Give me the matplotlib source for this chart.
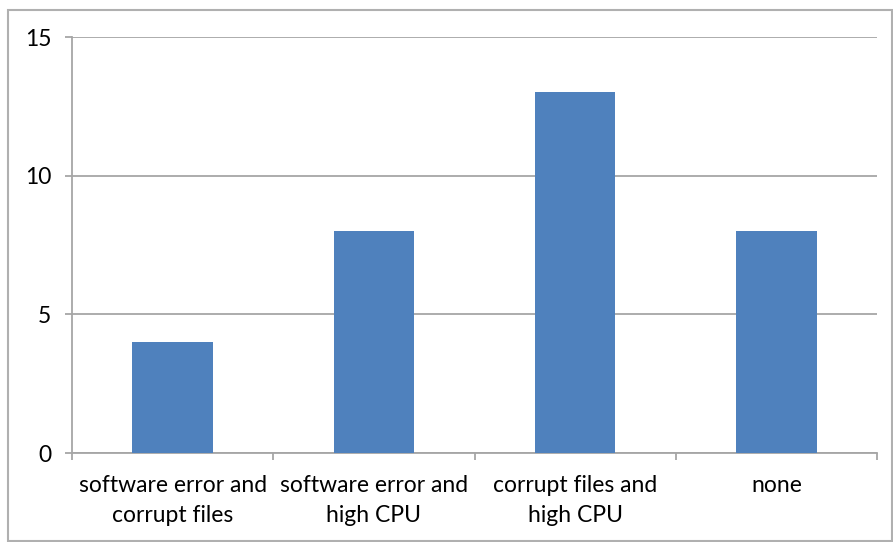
import matplotlib.pyplot as plt
from matplotlib.patches import Rectangle

# Data
categories = ['software error and\ncorrupt files', 'software error and\nhigh CPU',
              'corrupt files and\nhigh CPU', 'none']
counts = [4, 8, 13, 8]

plt.rcParams['font.family'] = ['Lato', 'DejaVu Sans']

fig = plt.figure(figsize=(8.93, 5.42), dpi=100)
ax = fig.add_axes([72 / 893, 1 - 453 / 542, (877 - 72) / 893, (453 - 37) / 542])

x = list(range(len(categories)))
ax.bar(x, counts, width=0.4, color='#4F81BD', zorder=3)

grid_c = '#A6A6A6'
ax.set_xlim(-0.5, len(categories) - 0.5)
ax.set_ylim(0, 15)
ax.set_yticks([0, 5, 10, 15])
ax.yaxis.grid(True, color=grid_c, linewidth=1.3)
ax.set_axisbelow(True)

# category labels centred, tick marks between categories
ax.set_xticks(x)
ax.set_xticklabels(categories, fontsize=16.5, linespacing=1.5)
ax.set_xticks([i - 0.5 for i in range(len(categories) + 1)], minor=True)
ax.tick_params(axis='x', which='major', length=0, pad=16)
ax.tick_params(axis='x', which='minor', length=5, width=1.3, color=grid_c)
ax.tick_params(axis='y', length=5, width=1.3, color=grid_c, labelsize=16.5, pad=10)

for side in ['top', 'right']:
    ax.spines[side].set_visible(False)
for side in ['left', 'bottom']:
    ax.spines[side].set_color(grid_c)
    ax.spines[side].set_linewidth(1.3)

# outer chart border
fig.patches.append(Rectangle((8 / 893, 1 / 542), 884 / 893, 531 / 542,
                             transform=fig.transFigure, fill=False,
                             edgecolor='#B0B0B0', linewidth=1.5))

fig.savefig('out.png', dpi=100)
